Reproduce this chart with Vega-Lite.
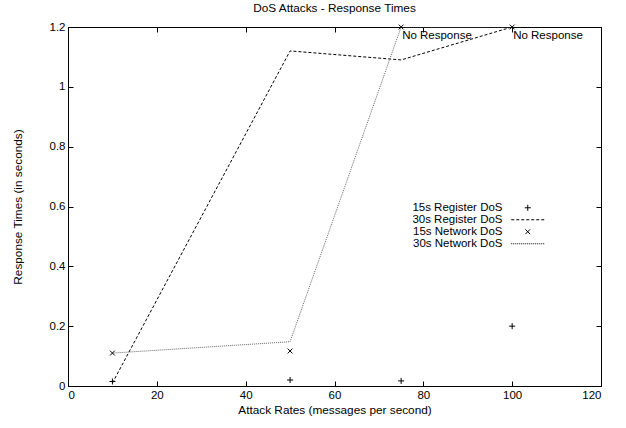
{
  "$schema": "https://vega.github.io/schema/vega-lite/v6.json",
  "width": 533,
  "height": 359,
  "autosize": {"type": "none"},
  "padding": {"left": 68, "top": 27, "right": 25, "bottom": 42},
  "background": "white",
  "config": {
    "font": "Liberation Sans",
    "view": {"stroke": "black", "strokeWidth": 1},
    "axis": {
      "domain": false,
      "grid": false,
      "ticks": true,
      "tickColor": "black",
      "tickSize": -5,
      "tickWidth": 1,
      "labelFont": "Liberation Sans",
      "labelFontSize": 11.5,
      "labelColor": "black",
      "titleFont": "Liberation Sans",
      "titleFontSize": 11.8,
      "titleFontWeight": "normal",
      "titleColor": "black"
    },
    "legend": {
      "labelFont": "Liberation Sans",
      "labelFontSize": 11.5,
      "labelColor": "black"
    }
  },
  "title": {
    "text": "DoS Attacks - Response Times",
    "fontSize": 11.8,
    "fontWeight": "normal",
    "font": "Liberation Sans",
    "color": "black",
    "anchor": "middle",
    "offset": 6
  },
  "datasets": {
    "points": [
      {"series": "15s Register DoS", "rate": 10, "time": 0.015},
      {"series": "15s Register DoS", "rate": 50, "time": 0.02},
      {"series": "15s Register DoS", "rate": 75, "time": 0.017},
      {"series": "15s Register DoS", "rate": 100, "time": 0.2},
      {"series": "30s Register DoS", "rate": 10, "time": 0.01},
      {"series": "30s Register DoS", "rate": 50, "time": 1.12},
      {"series": "30s Register DoS", "rate": 75, "time": 1.09},
      {"series": "30s Register DoS", "rate": 100, "time": 1.2},
      {"series": "15s Network DoS", "rate": 10, "time": 0.11},
      {"series": "15s Network DoS", "rate": 50, "time": 0.117},
      {"series": "15s Network DoS", "rate": 75, "time": 1.2},
      {"series": "15s Network DoS", "rate": 100, "time": 1.2},
      {"series": "30s Network DoS", "rate": 10, "time": 0.11},
      {"series": "30s Network DoS", "rate": 50, "time": 0.148},
      {"series": "30s Network DoS", "rate": 75, "time": 1.2},
      {"series": "30s Network DoS", "rate": 100, "time": 1.2}
    ],
    "labels": [
      {"rate": 75, "time": 1.2, "note": "No Response"},
      {"rate": 100, "time": 1.2, "note": "No Response"}
    ],
    "series": [
      {"series": "15s Register DoS"},
      {"series": "30s Register DoS"},
      {"series": "15s Network DoS"},
      {"series": "30s Network DoS"}
    ]
  },
  "layer": [
    {
      "data": {"name": "points"},
      "transform": [{"filter": "datum.series === '30s Register DoS'"}],
      "mark": {"type": "line", "stroke": "black", "strokeWidth": 1, "strokeDash": [3, 2], "clip": true},
      "encoding": {
        "x": {"field": "rate", "type": "quantitative", "scale": {"domain": [0, 120], "nice": false},
          "axis": {"orient": "bottom", "values": [0, 20, 40, 60, 80, 100, 120], "title": "Attack Rates (messages per second)", "labelPadding": 8, "titlePadding": 4}},
        "y": {"field": "time", "type": "quantitative", "scale": {"domain": [0, 1.2], "nice": false, "zero": false},
          "axis": {"orient": "left", "values": [0, 0.2, 0.4, 0.6, 0.8, 1, 1.2], "format": "~g", "title": "Response Times (in seconds)", "labelPadding": 8, "titlePadding": 26}},
        "order": {"field": "rate"}
      }
    },
    {
      "data": {"name": "points"},
      "transform": [{"filter": "datum.series === '30s Network DoS'"}],
      "mark": {"type": "line", "stroke": "#666666", "strokeWidth": 1, "strokeDash": [1, 1], "clip": true},
      "encoding": {
        "x": {"field": "rate", "type": "quantitative",
          "axis": {"orient": "top", "values": [0, 20, 40, 60, 80, 100, 120], "labels": false, "title": null}},
        "y": {"field": "time", "type": "quantitative",
          "axis": {"orient": "right", "values": [0, 0.2, 0.4, 0.6, 0.8, 1, 1.2], "labels": false, "title": null}},
        "order": {"field": "rate"}
      }
    },
    {
      "data": {"name": "points"},
      "transform": [{"filter": "datum.series === '15s Register DoS'"}],
      "mark": {"type": "point", "shape": "M-1,0L1,0M0,-1L0,1", "size": 36, "stroke": "black", "strokeWidth": 1, "filled": false, "opacity": 1},
      "encoding": {
        "x": {"field": "rate", "type": "quantitative", "axis": null},
        "y": {"field": "time", "type": "quantitative", "axis": null}
      }
    },
    {
      "data": {"name": "points"},
      "transform": [{"filter": "datum.series === '15s Network DoS'"}],
      "mark": {"type": "point", "shape": "M-0.8,-0.8L0.8,0.8M-0.8,0.8L0.8,-0.8", "size": 36, "stroke": "black", "strokeWidth": 1, "filled": false, "opacity": 1},
      "encoding": {
        "x": {"field": "rate", "type": "quantitative", "axis": null},
        "y": {"field": "time", "type": "quantitative", "axis": null}
      }
    },
    {
      "data": {"name": "labels"},
      "mark": {"type": "text", "align": "left", "baseline": "top", "dx": 1, "dy": 3, "fontSize": 11.5, "font": "Liberation Sans", "color": "black"},
      "encoding": {
        "x": {"field": "rate", "type": "quantitative", "axis": null},
        "y": {"field": "time", "type": "quantitative", "axis": null},
        "text": {"field": "note"}
      }
    },
    {
      "data": {"name": "series"},
      "mark": {"type": "point", "opacity": 0, "filled": false, "size": 36},
      "encoding": {
        "shape": {
          "field": "series", "type": "nominal",
          "scale": {
            "domain": ["15s Register DoS", "30s Register DoS", "15s Network DoS", "30s Network DoS"],
            "range": [
              "M-1,0L1,0M0,-1L0,1",
              "M-5.5,0h1m0.667,0h1m0.667,0h1m0.667,0h1m0.667,0h1m0.667,0h1m0.667,0h1",
              "M-0.8,-0.8L0.8,0.8M-0.8,0.8L0.8,-0.8",
              "M-5.5,0h0.333m0.333,0h0.333m0.333,0h0.333m0.333,0h0.333m0.333,0h0.333m0.333,0h0.333m0.333,0h0.333m0.333,0h0.333m0.333,0h0.333m0.333,0h0.333m0.333,0h0.333m0.333,0h0.333m0.333,0h0.333m0.333,0h0.333m0.333,0h0.333m0.333,0h0.333m0.333,0h0.333"
            ]
          },
          "legend": {
            "title": null,
            "orient": "none",
            "legendX": 454,
            "legendY": 175,
            "padding": 0,
            "rowPadding": -1.5,
            "symbolSize": 36,
            "symbolStrokeColor": "black",
            "symbolStrokeWidth": 1,
            "symbolFillColor": "transparent",
            "symbolOpacity": 1,
            "labelAlign": "right",
            "labelOffset": -31,
            "labelLimit": 300
          }
        }
      }
    }
  ],
  "resolve": {"axis": {"x": "independent", "y": "independent"}}
}
